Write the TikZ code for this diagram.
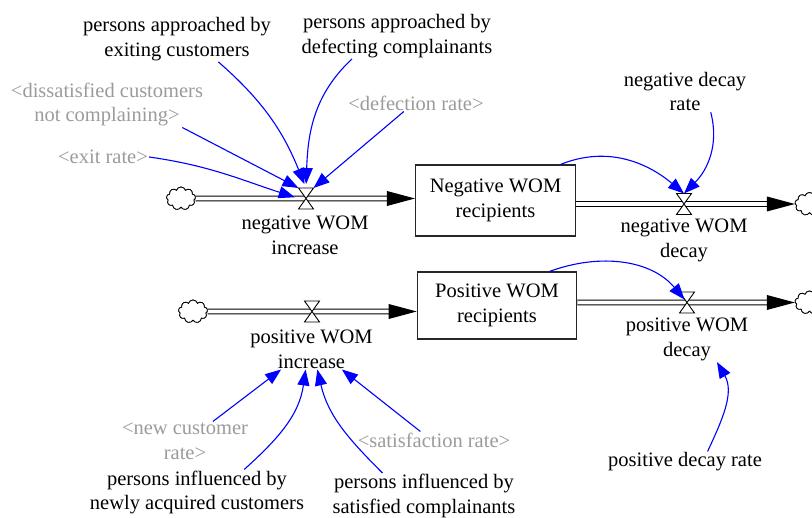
\documentclass[tikz,border=0pt]{standalone}
\usepackage{fontspec}
\setmainfont{Liberation Serif}
\usetikzlibrary{arrows.meta,shapes.symbols}
\definecolor{linkblue}{RGB}{0,0,255}
\definecolor{shadowgray}{RGB}{155,155,155}
\begin{document}
\begin{tikzpicture}[x=1pt,y=1pt,
  every node/.style={font=\fontsize{20.5}{24.8}\selectfont},
  var/.style={align=center, inner sep=1pt},
  shadow/.style={var, text=shadowgray},
  stock/.style={draw=black!85, line width=1.1pt, minimum width=160pt, minimum height=71pt, align=center, inner sep=0pt},
  valve/.style={minimum width=15pt, minimum height=21pt, inner sep=0pt, outer sep=0pt},
  source/.style={cloud, cloud puffs=9, cloud ignores aspect, draw, line width=.8pt, minimum width=29pt, minimum height=23pt, inner sep=0pt, fill=white},
  pipe/.style={line width=1.1pt, double distance=3.6pt, double=white},
  link/.style={linkblue, line width=1.1pt, -{Triangle[length=16pt,width=12pt]}},
  pics/flowhead/.style={code={\fill (0,0) -- (-28,7.5) -- (-28,-7.5) -- cycle;}}
]
\useasboundingbox (0,0) rectangle (812,518);
\clip (0,0) rectangle (812,518);

% stocks
\node[stock] (s1) at (495.5,317.5) {Negative WOM\\recipients};
\node[stock, minimum width=159.5pt, minimum height=67pt] (s2) at (497,212.5) {Positive WOM\\recipients};

% sources, sinks and valves
\node[valve] (v1) at (306,319.5) {};
\node[valve] (v2) at (684,314) {};
\node[valve] (v3) at (312,206.5) {};
\node[valve] (v4) at (687,215.5) {};
\node[source] (c1) at (181,319.5) {};
\node[source] (c2) at (809.5,314) {};
\node[source] (c3) at (193,206.5) {};
\node[source] (c4) at (809.5,215.5) {};

% pipes
\draw[pipe] (c1.east) -- ([xshift=-27pt]s1.west |- v1);
\pic at (s1.west |- v1) {flowhead};
\draw[pipe] (s1.east |- v2) -- ([xshift=-27pt]c2.west);
\pic at (c2.west) {flowhead};
\draw[pipe] (c3.east) -- ([xshift=-27pt]s2.west |- v3);
\pic at (s2.west |- v3) {flowhead};
\draw[pipe] (s2.east |- v4) -- ([xshift=-27pt]c4.west);
\pic at (c4.west) {flowhead};
\foreach \v in {v1,v2,v3,v4}
  \filldraw[fill=white, line width=.9pt] (\v.north west) -- (\v.north east) -- (\v.south west) -- (\v.south east) -- cycle;
% redraw clouds over pipe ends
\node[source] at (c1) {};
\node[source] at (c2) {};
\node[source] at (c3) {};
\node[source] at (c4) {};

% flow labels
\node[var] (l1) at (305,282.5) {negative WOM\\increase};
\node[var] (l2) at (684,277.5) {negative WOM\\decay};
\node[var] (l3) at (311.5,169) {positive WOM\\increase};
\node[var] (l4) at (687,178.5) {positive WOM\\decay};

% auxiliaries
\node[var] (paexit) at (177,479) {persons approached by\\exiting customers};
\node[var] (padef) at (397,482) {persons approached by\\defecting complainants};
\node[shadow] (dissat) at (107,413.5) {\textless dissatisfied customers\\not complaining\textgreater};
\node[shadow] (exitr) at (103,361) {\textless exit rate\textgreater};
\node[shadow] (defr) at (416,415) {\textless defection rate\textgreater};
\node[var] (ndr) at (685,426.5) {negative decay\\rate};
\node[var] (pdr) at (685,56) {positive decay rate};
\node[shadow] (ncr) at (185,77) {\textless new customer\\rate\textgreater};
\node[shadow] (satr) at (434,78) {\textless satisfaction rate\textgreater};
\node[var] (pinew) at (197,25.5) {persons influenced by\\newly acquired customers};
\node[var] (pisat) at (424,22) {persons influenced by\\satisfied complainants};

% links
\draw[link, shorten >=4pt] (paexit.-29) to[out=-41,in=112] (v1.north);
\draw[link, shorten >=4pt] (padef.-153) to[out=-137,in=88] (v1.north);
\draw[link] (dissat.-17) -- (v1.north west);
\draw[link, shorten >=4pt] (exitr.east) to[out=-8,in=162] (v1.west);
\draw[link] (defr.-145) -- (v1.north east);
\draw[link] (s1.29) to[out=22,in=140] (v2.north);
\draw[link] (ndr.-39) to[out=-75,in=45] (v2.north);
\draw[link, shorten >=4pt] (s2.33) to[out=20,in=130] (v4.center);
\draw[link] (pdr.25) to[out=65,in=-60] (l4.-37);
\draw[link] (ncr.35) -- (l3.-146);
\draw[link] (pinew.26) to[out=42,in=-98] (l3.-106);
\draw[link] (pisat.151) to[out=135,in=-77] (l3.-74);
\draw[link] (satr.148) -- (l3.-34);
\end{tikzpicture}
\end{document}
